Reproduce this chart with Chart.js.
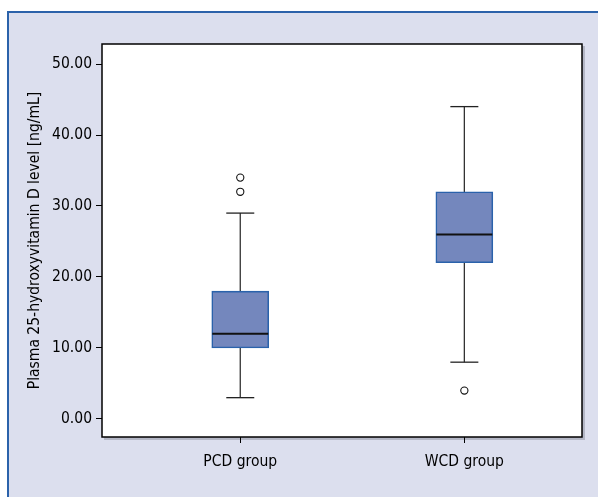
<!DOCTYPE html>
<html><head><meta charset="utf-8">
<script src="https://cdn.jsdelivr.net/npm/chart.js@4.4.0/dist/chart.umd.min.js"></script>
<style>
html,body{margin:0;padding:0;width:598px;height:497px;overflow:hidden;background:#fff;}
#frame{position:absolute;left:7px;top:11px;width:620px;height:520px;background:#dcdfee;border-top:2px solid #2b62aa;border-left:2px solid #2b62aa;}
#wrap{position:absolute;left:0;top:0;width:598px;height:497px;}
</style></head><body>
<div id="frame"></div>
<div id="wrap"><canvas id="c" width="598" height="497"></canvas></div>
<script>
const categories = ['PCD group', 'WCD group'];
const whiskerLow = [3, 8];
const q1 = [10, 22];
const median = [12, 26];
const q3 = [18, 32];
const whiskerHigh = [29, 44];
const outliers = [[32, 34], [4]];
const yTicks = [0, 10, 20, 30, 40, 50];
const yTitle = 'Plasma 25-hydroxyvitamin D level [ng/mL]';

const FONT = "'DejaVu Sans Condensed', 'Liberation Sans', sans-serif";
const FSIZE = 15.5;
const boxFill = '#7487bd';
const boxBorder = '#2a62ab';

const datasets = [];
categories.forEach((c, i) => {
  datasets.push({
    type: 'line', order: 5,
    data: [{x: i + 1, y: whiskerLow[i]}, {x: i + 1, y: whiskerHigh[i]}],
    borderColor: '#333', borderWidth: 1.3, pointRadius: 0, fill: false
  });
});
datasets.push({
  type: 'bar', order: 4,
  data: categories.map((c, i) => ({x: i + 1, y: [q1[i], q3[i]]})),
  backgroundColor: boxFill, borderColor: boxBorder, borderWidth: 1.6,
  borderSkipped: false, barThickness: 57
});
datasets.push({
  type: 'scatter', order: 3,
  data: categories.flatMap((c, i) => [{x: i + 1, y: whiskerLow[i]}, {x: i + 1, y: whiskerHigh[i]}]),
  pointStyle: 'line', pointRadius: 14, borderColor: '#222', borderWidth: 1.3
});
datasets.push({
  type: 'scatter', order: 1,
  data: categories.map((c, i) => ({x: i + 1, y: median[i]})),
  pointStyle: 'line', pointRadius: 28, borderColor: '#111', borderWidth: 2
});
datasets.push({
  type: 'scatter', order: 0,
  data: categories.flatMap((c, i) => outliers[i].map(v => ({x: i + 1, y: v}))),
  pointStyle: 'circle', pointRadius: 3.6, backgroundColor: '#fff', borderColor: '#111', borderWidth: 1.1
});

const panel = {
  id: 'panel',
  beforeDraw(chart) {
    const {ctx, chartArea: a} = chart;
    ctx.save();
    ctx.fillStyle = '#b4b7c6';
    ctx.fillRect(a.left + 2, a.top + 2, a.right - a.left + 1, a.bottom - a.top + 1);
    ctx.fillStyle = '#fff';
    ctx.fillRect(a.left, a.top, a.right - a.left, a.bottom - a.top);
    ctx.restore();
  },
  afterDraw(chart) {
    const {ctx, chartArea: a} = chart;
    ctx.save();
    ctx.strokeStyle = '#000';
    ctx.lineWidth = 1.5;
    ctx.strokeRect(a.left, a.top, a.right - a.left, a.bottom - a.top);
    ctx.restore();
  }
};

new Chart(document.getElementById('c'), {
  type: 'bar',
  data: {datasets},
  plugins: [panel],
  options: {
    responsive: false, animation: false,
    layout: {autoPadding: false, padding: {left: 0, right: 16, top: 44, bottom: 0}},
    plugins: {legend: {display: false}, tooltip: {enabled: false}},
    scales: {
      x: {
        type: 'linear', min: 0.383, max: 2.525, offset: false,
        afterBuildTicks: s => { s.ticks = categories.map((c, i) => ({value: i + 1})); },
        afterFit: s => { s.height = 60; s.paddingLeft = 0; s.paddingRight = 0; },
        ticks: {
          callback: v => categories[Math.round(v) - 1],
          autoSkip: false, maxRotation: 0, padding: 10,
          color: '#000', font: {family: FONT, size: FSIZE}
        },
        grid: {offset: false, drawOnChartArea: false, drawTicks: true, tickLength: 6, color: '#000', lineWidth: 1},
        border: {display: false}
      },
      y: {
        type: 'linear', min: -2.54, max: 52.82,
        afterBuildTicks: s => { s.ticks = yTicks.map(v => ({value: v})); },
        afterFit: s => { s.width = 102; },
        ticks: {
          callback: v => Number(v).toFixed(2),
          padding: 4, color: '#000', font: {family: FONT, size: FSIZE}
        },
        grid: {drawOnChartArea: false, drawTicks: true, tickLength: 6, color: '#000', lineWidth: 1},
        border: {display: false},
        title: {display: true, text: yTitle, color: '#000', font: {family: FONT, size: FSIZE}, padding: {top: 26, bottom: 0}}
      }
    }
  }
});
</script>
</body></html>
